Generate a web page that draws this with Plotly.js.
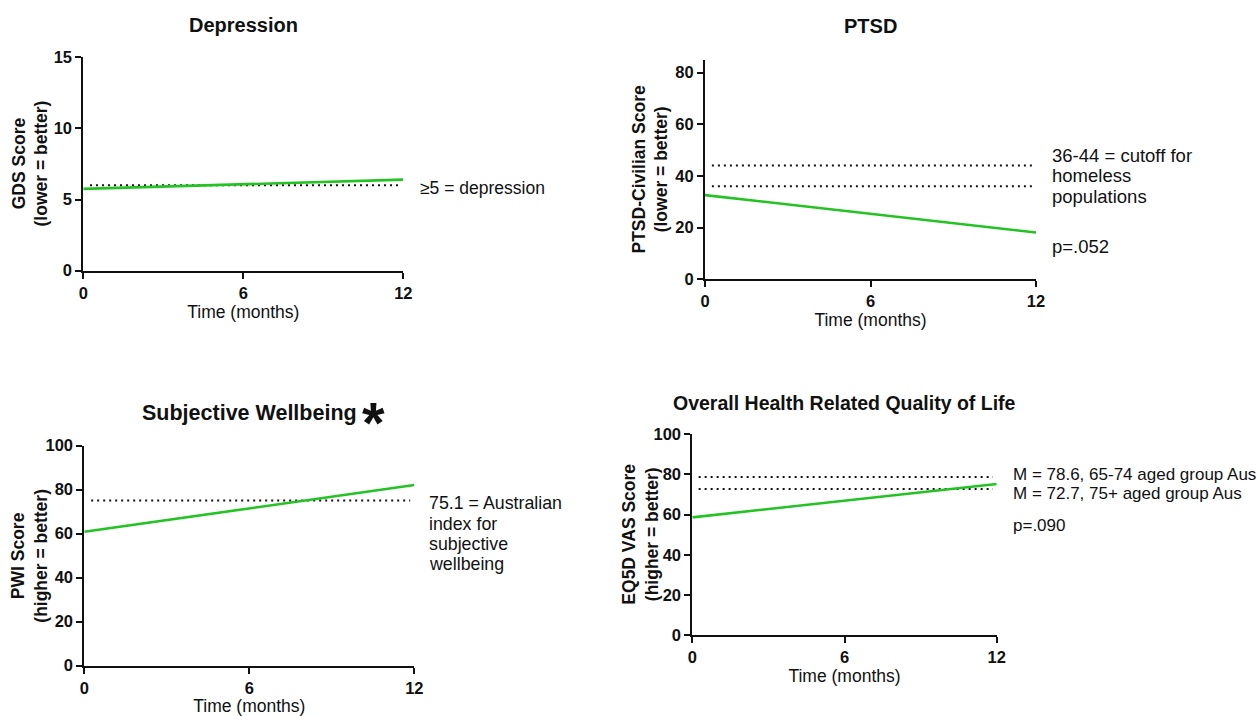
<!DOCTYPE html>
<html>
<head>
<meta charset="utf-8">
<script src="https://cdn.plot.ly/plotly-3.0.1.min.js"></script>
<style>html,body{margin:0;padding:0;background:#fff;}#chart{width:1257px;height:716px;}</style>
</head>
<body>
<div id="chart"></div>
<script>
// ---- data ----
const months = [0, 12];
const xTickVals = [0, 6, 12];
const refLineX = [0.25, 11.85];

const gdsScore = [5.75, 6.4];
const gdsCutoffs = [6.0];
const gdsTicks = [0, 5, 10, 15];

const ptsdScore = [32.6, 18.1];
const ptsdCutoffs = [44, 36];
const ptsdTicks = [0, 20, 40, 60, 80];

const pwiScore = [60.9, 82.1];
const pwiNorms = [75.1];
const pwiTicks = [0, 20, 40, 60, 80, 100];

const eq5dScore = [58.6, 75.2];
const eq5dNorms = [78.6, 72.7];
const eq5dTicks = [0, 20, 40, 60, 80, 100];

const panelTitles = ["Depression", "PTSD", "Subjective Wellbeing", "Overall Health Related Quality of Life"];
const yTitles = ["GDS Score<br>(lower = better)", "PTSD-Civilian Score<br>(lower = better)",
                 "PWI Score<br>(higher = better)", "EQ5D VAS Score<br>(higher = better)"];
const xTitle = "Time (months)";
const gdsNotes = ["≥5 = depression"];
const ptsdNotes = ["36-44 = cutoff for", "homeless", "populations", "p=.052"];
const pwiNotes = ["75.1 = Australian", "index for", "subjective", "wellbeing"];
const eq5dNotes = ["M = 78.6, 65-74 aged group Aus", "M = 72.7, 75+ aged group Aus", "p=.090"];

// ---- styling / layout ----
const FONT = "Liberation Sans, Arial, sans-serif";
const GREEN = "#22c322";
const W = 1257, H = 716;

const panels = [
  {score: gdsScore, refs: gdsCutoffs, ticks: gdsTicks, yr: [0, 15],
   xd: [83.3, 403.3], yd: [57.3, 270.7], notes: gdsNotes, noteX: 12.55, noteY: [5.82], noteSize: 17.5,
   titleY: 25, yTitleX: 29.5, titleSize: 20},
  {score: ptsdScore, refs: ptsdCutoffs, ticks: ptsdTicks, yr: [0, 85],
   xd: [705, 1036], yd: [59.7, 279.3], notes: ptsdNotes, noteX: 12.5, noteY: [48.1, 40.1, 32.0, 12.6], noteSize: 18.5,
   titleY: 26, yTitleX: 650, titleSize: 20},
  {score: pwiScore, refs: pwiNorms, ticks: pwiTicks, yr: [0, 100],
   xd: [84.3, 414.3], yd: [445.7, 665.7], notes: pwiNotes, noteX: 12.45, noteY: [73.8, 64.5, 55.3, 46.2], noteSize: 17.8,
   titleY: 413, yTitleX: 30, titleSize: 21.5},
  {score: eq5dScore, refs: eq5dNorms, ticks: eq5dTicks, yr: [0, 100],
   xd: [692.3, 996.7], yd: [434, 635.3], notes: eq5dNotes, noteX: 12.58, noteY: [79.9, 70.4, 54.4], noteSize: 17,
   titleY: 402.5, yTitleX: 641, titleSize: 19.5}
];

const traces = [];
const layout = {
  width: W, height: H,
  margin: {l: 0, r: 0, t: 0, b: 0},
  paper_bgcolor: "#ffffff", plot_bgcolor: "#ffffff",
  showlegend: false,
  font: {family: FONT, color: "#111"},
  annotations: []
};

panels.forEach((p, i) => {
  const n = i + 1;
  const xa = n === 1 ? "x" : "x" + n;
  const ya = n === 1 ? "y" : "y" + n;
  const xKey = n === 1 ? "xaxis" : "xaxis" + n;
  const yKey = n === 1 ? "yaxis" : "yaxis" + n;

  // reference (dotted) lines
  p.refs.forEach(v => {
    traces.push({x: refLineX, y: [v, v], xaxis: xa, yaxis: ya, mode: "lines",
      line: {color: "#111", width: 2, dash: "2px,4px"}, hoverinfo: "skip"});
  });
  // trend line
  traces.push({x: months, y: p.score, xaxis: xa, yaxis: ya, mode: "lines",
    line: {color: GREEN, width: 2.6}});

  layout[xKey] = {
    domain: [p.xd[0] / W, p.xd[1] / W], anchor: ya, range: [0, 12],
    tickmode: "array", tickvals: xTickVals, ticktext: xTickVals.map(String),
    ticks: "outside", ticklen: 6, tickwidth: 2, tickcolor: "#111",
    showline: true, linewidth: 2, linecolor: "#111",
    showgrid: false, zeroline: false,
    tickfont: {family: FONT, size: 16.5, weight: "bold", color: "#111"},
    title: {text: xTitle, font: {family: FONT, size: 17.5, color: "#111"}, standoff: 4},
    fixedrange: true
  };
  layout[yKey] = {
    domain: [1 - p.yd[1] / H, 1 - p.yd[0] / H], anchor: xa, range: p.yr,
    tickmode: "array", tickvals: p.ticks, ticktext: p.ticks.map(String),
    ticks: "outside", ticklen: 6, tickwidth: 2, tickcolor: "#111",
    showline: true, linewidth: 2, linecolor: "#111",
    showgrid: false, zeroline: false,
    tickfont: {family: FONT, size: 16.5, weight: "bold", color: "#111"},
    fixedrange: true
  };

  // panel title
  layout.annotations.push({text: panelTitles[i], xref: "paper", yref: "paper",
    x: ((p.xd[0] + p.xd[1]) / 2) / W, y: 1 - p.titleY / H, xanchor: "center", yanchor: "middle",
    showarrow: false, font: {family: FONT, size: p.titleSize, weight: "bold", color: "#111"}});
  // y-axis title
  layout.annotations.push({text: yTitles[i], xref: "paper", yref: "paper",
    x: p.yTitleX / W, y: 1 - ((p.yd[0] + p.yd[1]) / 2) / H, xanchor: "center", yanchor: "middle",
    textangle: -90, showarrow: false,
    font: {family: FONT, size: 17.5, weight: "bold", color: "#111"}});
  // side notes (x beyond the axis range, so placed in paper units along x)
  const noteXPaper = (p.xd[0] + p.noteX * (p.xd[1] - p.xd[0]) / 12) / W;
  p.notes.forEach((t, k) => {
    layout.annotations.push({text: t, xref: "paper", yref: ya, x: noteXPaper, y: p.noteY[k],
      xanchor: "left", yanchor: "middle", showarrow: false,
      font: {family: FONT, size: p.noteSize, color: "#111"}});
  });
});

// significance star next to "Subjective Wellbeing"
layout.annotations.push({text: "*", xref: "paper", yref: "paper",
  x: 373 / W, y: 1 - 422.5 / H, xanchor: "center", yanchor: "middle", showarrow: false,
  font: {family: FONT, size: 58, weight: "bold", color: "#111"}});

Plotly.newPlot("chart", traces, layout, {staticPlot: true, displayModeBar: false});
</script>
</body>
</html>
